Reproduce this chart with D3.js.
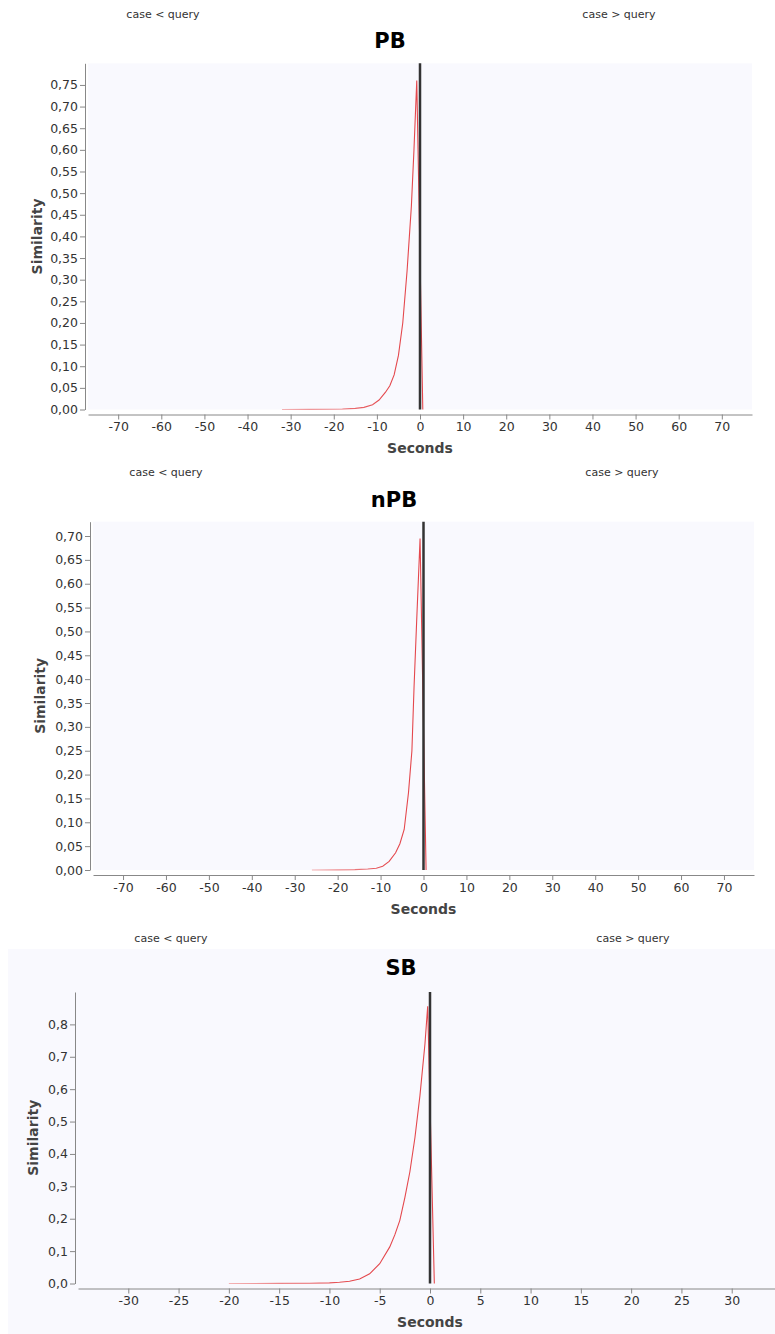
<!DOCTYPE html>
<html>
<head>
<meta charset="utf-8">
<script src="https://cdn.jsdelivr.net/npm/d3@7"></script>
<style>
  body { margin: 0; background: #fff; }
  svg text { font-family: "DejaVu Sans", Verdana, sans-serif; }
</style>
</head>
<body>
<div class="chart"></div>
<script>
// PB similarity by time offset (seconds)
var pbSeconds = [-32, -26, -22, -18, -15, -13, -11, -9.5, -8, -7, -6, -5, -4, -3, -2, -1.4, -0.75, 0.65];
var pbSimilarity = [0, 0.0003, 0.0006, 0.0012, 0.0025, 0.005, 0.011, 0.022, 0.04, 0.055, 0.08, 0.125, 0.2, 0.32, 0.47, 0.6, 0.76, 0];

// nPB
var npbSeconds = [-26, -20, -16, -13, -11, -9.5, -8, -6.5, -5.5, -4.5, -3.5, -2.7, -2.2, -1.6, -0.8, 0.6];
var npbSimilarity = [0, 0.0003, 0.0008, 0.002, 0.0035, 0.008, 0.018, 0.036, 0.055, 0.085, 0.162, 0.25, 0.384, 0.52, 0.695, 0];

// SB
var sbSeconds = [-20, -15, -12, -10, -9, -8, -7, -6, -5, -4, -3.5, -3, -2.5, -2, -1.5, -1, -0.5, -0.23, 0.43];
var sbSimilarity = [0, 0.0003, 0.001, 0.002, 0.004, 0.007, 0.014, 0.03, 0.061, 0.113, 0.15, 0.195, 0.265, 0.345, 0.45, 0.58, 0.74, 0.856, 0];

// Tick labels
var wideTicks = [-70, -60, -50, -40, -30, -20, -10, 0, 10, 20, 30, 40, 50, 60, 70];
var narrowTicks = [-30, -25, -20, -15, -10, -5, 0, 5, 10, 15, 20, 25, 30];
var pbYTicks = [0, 0.05, 0.1, 0.15, 0.2, 0.25, 0.3, 0.35, 0.4, 0.45, 0.5, 0.55, 0.6, 0.65, 0.7, 0.75];
var npbYTicks = [0, 0.05, 0.1, 0.15, 0.2, 0.25, 0.3, 0.35, 0.4, 0.45, 0.5, 0.55, 0.6, 0.65, 0.7];
var sbYTicks = [0, 0.1, 0.2, 0.3, 0.4, 0.5, 0.6, 0.7, 0.8];

var titles = ["PB", "nPB", "SB"];

// Comma decimal formatting for the y axis
var commaLocale = d3.formatLocale({ decimal: ",", thousands: ".", grouping: [3], currency: ["", "€"] });

var svg = d3.select(".chart")
  .append("svg")
  .attr("width", 775)
  .attr("height", 1334);

var defs = svg.append("defs");

var charts = [
  {
    title: titles[0], seconds: pbSeconds, similarity: pbSimilarity,
    xTicks: wideTicks, yTicks: pbYTicks, yFormat: ".2f",
    xDomain: [-77, 77], yDomain: [0, 0.8],
    left: 88, right: 752, top: 63.3, bottom: 409.5,
    caseY: 18, caseLX: 163, caseRX: 619, titleX: 390, titleY: 48, simX: 37
  },
  {
    title: titles[1], seconds: npbSeconds, similarity: npbSimilarity,
    xTicks: wideTicks, yTicks: npbYTicks, yFormat: ".2f",
    xDomain: [-77, 77], yDomain: [0, 0.73],
    left: 93, right: 754, top: 521.7, bottom: 870,
    caseY: 476, caseLX: 166, caseRX: 622, titleX: 394, titleY: 507, simX: 40
  },
  {
    title: titles[2], seconds: sbSeconds, similarity: sbSimilarity,
    xTicks: narrowTicks, yTicks: sbYTicks, yFormat: ".1f",
    xDomain: [-35, 35], yDomain: [0, 0.9],
    left: 78, right: 782, top: 992, bottom: 1283.5,
    caseY: 942, caseLX: 171, caseRX: 633, titleX: 401, titleY: 975, simX: 33,
    panel: [8, 949, 767, 385]
  }
];

charts.forEach(drawChart);

function drawChart(cfg, idx) {
  var g = svg.append("g");

  // light panel behind the whole last chart
  if (cfg.panel) {
    g.append("rect")
      .attr("x", cfg.panel[0])
      .attr("y", cfg.panel[1])
      .attr("width", cfg.panel[2])
      .attr("height", cfg.panel[3])
      .attr("fill", "#f9f9fe");
  }

  var xScale = d3.scaleLinear().domain(cfg.xDomain).range([cfg.left, cfg.right]);
  var yScale = d3.scaleLinear().domain(cfg.yDomain).range([cfg.bottom, cfg.top]);

  // case labels
  g.append("text")
    .attr("x", cfg.caseLX)
    .attr("y", cfg.caseY)
    .attr("text-anchor", "middle")
    .style("font-size", "11px")
    .attr("fill", "#333")
    .text("case < query");

  g.append("text")
    .attr("x", cfg.caseRX)
    .attr("y", cfg.caseY)
    .attr("text-anchor", "middle")
    .style("font-size", "11px")
    .attr("fill", "#333")
    .text("case > query");

  // title
  g.append("text")
    .attr("x", cfg.titleX)
    .attr("y", cfg.titleY)
    .attr("text-anchor", "middle")
    .style("font-size", "21px")
    .style("font-weight", "bold")
    .attr("fill", "#000")
    .text(cfg.title);

  // plot background
  g.append("rect")
    .attr("x", cfg.left)
    .attr("y", cfg.top)
    .attr("width", cfg.right - cfg.left)
    .attr("height", cfg.bottom - cfg.top)
    .attr("fill", "#f9f9fe");

  // axes
  var xAxis = g.append("g")
    .attr("transform", "translate(0," + (cfg.bottom + 5) + ")")
    .call(d3.axisBottom(xScale)
      .tickValues(cfg.xTicks)
      .tickSize(5)
      .tickSizeOuter(0)
      .tickPadding(3)
      .tickFormat(function(d) { return String(d); }));

  var yAxis = g.append("g")
    .attr("transform", "translate(" + (cfg.left - 3) + ",0)")
    .call(d3.axisLeft(yScale)
      .tickValues(cfg.yTicks)
      .tickSize(5)
      .tickSizeOuter(0)
      .tickPadding(2)
      .tickFormat(commaLocale.format(cfg.yFormat)));

  [xAxis, yAxis].forEach(function(ax) {
    ax.select(".domain").attr("stroke", "#888");
    ax.selectAll(".tick line").attr("stroke", "#888");
    ax.selectAll(".tick text")
      .attr("fill", "#333")
      .style("font-size", "12.5px")
      .style("font-family", "'DejaVu Sans', Verdana, sans-serif");
  });

  // similarity curve, fading out where it flattens
  var points = cfg.seconds.map(function(s, i) {
    return { s: s, v: cfg.similarity[i] };
  });

  var grad = defs.append("linearGradient")
    .attr("id", "fade" + idx)
    .attr("gradientUnits", "userSpaceOnUse")
    .attr("x1", xScale(cfg.seconds[0]))
    .attr("x2", xScale(-8))
    .attr("y1", 0)
    .attr("y2", 0);
  grad.append("stop").attr("offset", 0).attr("stop-color", "#f3b3b5");
  grad.append("stop").attr("offset", 1).attr("stop-color", "#e4484d");

  var line = d3.line()
    .x(function(d) { return xScale(d.s); })
    .y(function(d) { return yScale(d.v); });

  g.append("path")
    .datum(points)
    .attr("d", line)
    .attr("fill", "none")
    .attr("stroke", "url(#fade" + idx + ")")
    .attr("stroke-width", 1.1);

  // zero marker
  g.append("line")
    .attr("x1", xScale(0))
    .attr("x2", xScale(0))
    .attr("y1", yScale(0))
    .attr("y2", yScale(cfg.yDomain[1]))
    .attr("stroke", "#333")
    .attr("stroke-width", 2.5);

  // axis titles
  g.append("text")
    .attr("x", xScale(0))
    .attr("y", cfg.bottom + 39)
    .attr("dy", "0.35em")
    .attr("text-anchor", "middle")
    .style("font-size", "14px")
    .style("font-weight", "bold")
    .attr("fill", "#444")
    .text("Seconds");

  g.append("text")
    .attr("transform", "translate(" + cfg.simX + "," + ((cfg.top + cfg.bottom) / 2) + ") rotate(-90)")
    .attr("dy", "0.35em")
    .attr("text-anchor", "middle")
    .style("font-size", "14px")
    .style("font-weight", "bold")
    .attr("fill", "#444")
    .text("Similarity");
}
</script>
</body>
</html>
